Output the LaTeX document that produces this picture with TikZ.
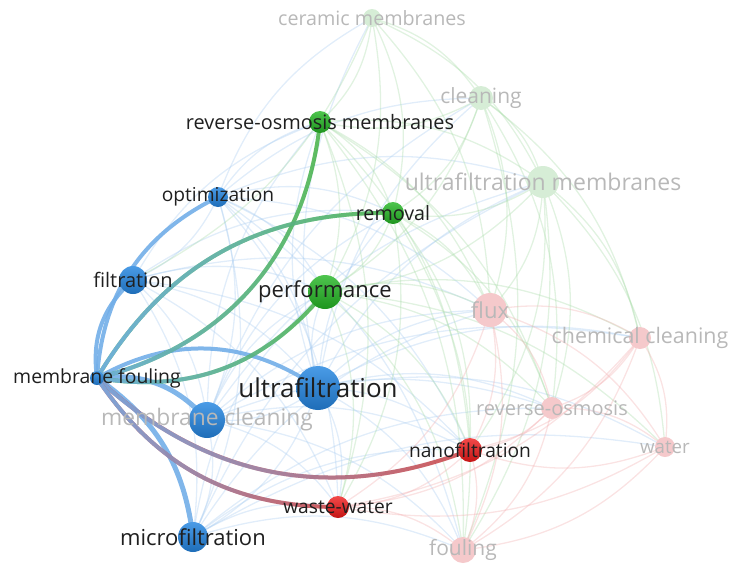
\documentclass[tikz,border=0pt]{standalone}
\usepackage{fontspec}
\setmainfont{Open Sans}
\usetikzlibrary{fadings}

\definecolor{kwbluetop}{HTML}{4A9BE6}
\definecolor{kwbluebot}{HTML}{1E6DB8}
\definecolor{kwgreentop}{HTML}{4EC44E}
\definecolor{kwgreenbot}{HTML}{1E951E}
\definecolor{kwredtop}{HTML}{F24A4A}
\definecolor{kwredbot}{HTML}{C41414}
\definecolor{kwfadegreen}{HTML}{D6EDD6}
\definecolor{kwfadered}{HTML}{F5C9CB}
\definecolor{linkblue}{HTML}{72AEE8}
\definecolor{linkgreen}{HTML}{4DB64D}
\definecolor{linkred}{HTML}{D24848}
\definecolor{bgblue}{HTML}{A9CCF0}
\definecolor{bggreen}{HTML}{A8DBA8}
\definecolor{bgred}{HTML}{F2AEB0}
\definecolor{fadetext}{HTML}{B8B8B8}

\pgfdeclarelayer{links}
\pgfsetlayers{links,main}

\newcommand{\fs}[1]{\fontsize{#1}{#1}\selectfont}

\tikzset{
  kw/.style={circle, inner sep=0pt, minimum size=#1},
  bluekw/.style={top color=kwbluetop, bottom color=kwbluebot},
  greenkw/.style={top color=kwgreentop, bottom color=kwgreenbot},
  redkw/.style={top color=kwredtop, bottom color=kwredbot},
  fadegreenkw/.style={fill=kwfadegreen},
  faderedkw/.style={fill=kwfadered},
  lbl/.style={text=black!88, inner sep=0pt},
  lblfade/.style={text=fadetext, inner sep=0pt},
  bglink/.style={draw=#1, line width=1.3pt, draw opacity=0.35},
  hl/.style={line width=4pt, line cap=round, draw opacity=0.9},
}

\begin{document}
\begin{tikzpicture}[x=1pt, y=-1pt]
\useasboundingbox (0,0) rectangle (731,584);

% keywords
\node[kw=18pt, fadegreenkw] (cer)  at (372,18)  {};
\node[kw=24pt, fadegreenkw] (cln)  at (481,98)  {};
\node[kw=22pt, greenkw]     (rom)  at (320,122) {};
\node[kw=32pt, fadegreenkw] (ufm)  at (543,182) {};
\node[kw=20pt, bluekw]      (opt)  at (218,197) {};
\node[kw=22pt, greenkw]     (rem)  at (393,213) {};
\node[kw=28pt, bluekw]      (fil)  at (133,280) {};
\node[kw=34pt, greenkw]     (perf) at (325,292) {};
\node[kw=34pt, faderedkw]   (flux) at (490,310) {};
\node[kw=22pt, faderedkw]   (chc)  at (640,338) {};
\node[kw=14pt, bluekw]      (mf)   at (97,378)  {};
\node[kw=44pt, bluekw]      (uf)   at (318,388) {};
\node[kw=36pt, bluekw]      (mc)   at (207,420) {};
\node[kw=22pt, faderedkw]   (ro)   at (552,408) {};
\node[kw=20pt, faderedkw]   (wat)  at (665,447) {};
\node[kw=24pt, redkw]       (nf)   at (470,450) {};
\node[kw=22pt, redkw]       (ww)   at (338,507) {};
\node[kw=30pt, bluekw]      (mif)  at (193,537) {};
\node[kw=26pt, faderedkw]   (fou)  at (463,550) {};

\begin{pgfonlayer}{links}
  % faint co-occurrence links
  \foreach \a/\b in {opt/fil, opt/uf, opt/mc, opt/mif, opt/perf, opt/flux, opt/rom, opt/rem,
      opt/ufm, opt/cln, opt/nf, opt/ww, opt/fou, opt/cer, fil/uf, fil/mc, fil/mif, fil/perf,
      fil/rem, fil/rom, fil/flux, fil/nf, fil/ww, uf/mc, uf/mif, uf/perf, uf/rem, uf/rom,
      uf/ufm, uf/cln, uf/cer, uf/flux, uf/chc, uf/ro, uf/wat, uf/nf, uf/ww, uf/fou, mc/mif,
      mc/perf, mc/rem, mc/rom, mc/ufm, mc/cln, mc/flux, mc/chc, mc/ro, mc/nf, mc/ww, mc/fou,
      mif/perf, mif/ufm, mif/flux, mif/ro, mif/nf, mif/ww, mif/fou, mif/wat}
    \draw[bglink=bgblue] (\a.center) to[bend left=20] (\b.center);
  \foreach \a/\b in {cer/cln, cer/rom, cer/ufm, cer/rem, cer/perf, cer/flux, cer/fil,
      cln/rom, cln/ufm, cln/rem, cln/perf, cln/flux, cln/chc, cln/ro, cln/fou, rom/ufm,
      rom/rem, rom/perf, rom/flux, rom/ro, rom/nf, rom/ww, rom/fou, ufm/rem, ufm/perf,
      ufm/flux, ufm/chc, ufm/ro, ufm/wat, ufm/nf, ufm/fou, rem/perf, rem/flux, rem/ro,
      rem/nf, rem/ww, rem/fou, perf/flux, perf/chc, perf/ro, perf/nf, perf/ww, perf/fou,
      perf/wat}
    \draw[bglink=bggreen] (\a.center) to[bend left=20] (\b.center);
  \foreach \a/\b in {flux/chc, flux/ro, flux/wat, flux/nf, flux/ww, flux/fou, chc/ro,
      chc/wat, chc/nf, chc/ww, chc/fou, ro/wat, ro/nf, ro/ww, ro/fou, wat/nf, wat/ww,
      wat/fou, nf/ww, nf/fou, ww/fou}
    \draw[bglink=bgred] (\a.center) to[bend left=20] (\b.center);

  % links of membrane fouling
  \draw[hl, linkblue] (mf.center) to[bend left=30] (opt.center);
  \draw[hl, linkblue] (mf.center) to[bend left=28] (fil.center);
  \draw[hl, linkblue] (mf.center) to[bend left=32] (uf.center);
  \draw[hl, linkblue, line width=5pt] (mf.center) to[bend left=28] (mc.center);
  \draw[hl, linkblue, line width=5pt] (mf.center) to[bend left=24] (mif.center);
  \draw[hl, linkgreen] (mf.center) to[bend right=35] (rom.center);
  \draw[hl, linkblue, path fading=east] (mf.center) to[bend right=35] (rom.center);
  \draw[hl, linkgreen] (mf.center) to[bend left=30] (rem.center);
  \draw[hl, linkblue, path fading=east] (mf.center) to[bend left=30] (rem.center);
  \draw[hl, linkgreen] (mf.center) to[bend right=30] (perf.center);
  \draw[hl, linkblue, path fading=east] (mf.center) to[bend right=30] (perf.center);
  \draw[hl, linkred] (mf.center) to[bend right=32] (nf.center);
  \draw[hl, linkblue, path fading=east] (mf.center) to[bend right=32] (nf.center);
  \draw[hl, linkred] (mf.center) to[bend right=28] (ww.center);
  \draw[hl, linkblue, path fading=east] (mf.center) to[bend right=28] (ww.center);
\end{pgfonlayer}

% labels
\node[lblfade] at (cer)  {\fs{19.7}ceramic membranes};
\node[lblfade] at (cln)  {\fs{21}cleaning};
\node[lbl]     at (rom)  {\fs{19.9}reverse-osmosis membranes};
\node[lblfade] at (ufm)  {\fs{23}ultrafiltration membranes};
\node[lbl]     at (opt)  {\fs{19.2}optimization};
\node[lbl]     at (rem)  {\fs{19.7}removal};
\node[lbl]     at (fil)  {\fs{20}filtration};
\node[lbl]     at (perf) {\fs{22}performance};
\node[lblfade] at (flux) {\fs{22}flux};
\node[lblfade] at (chc)  {\fs{21.4}chemical cleaning};
\node[lbl]     at (mf)   {\fs{19.4}membrane fouling};
\node[lbl]     at (uf)   {\fs{26}ultrafiltration};
\node[lblfade] at (mc)   {\fs{22.8}membrane cleaning};
\node[lblfade] at (ro)   {\fs{20}reverse-osmosis};
\node[lblfade] at (wat)  {\fs{18.7}water};
\node[lbl]     at (nf)   {\fs{19.2}nanofiltration};
\node[lbl]     at (ww)   {\fs{19.2}waste-water};
\node[lbl]     at (mif)  {\fs{22}microfiltration};
\node[lblfade] at (fou)  {\fs{21}fouling};
\end{tikzpicture}
\end{document}
